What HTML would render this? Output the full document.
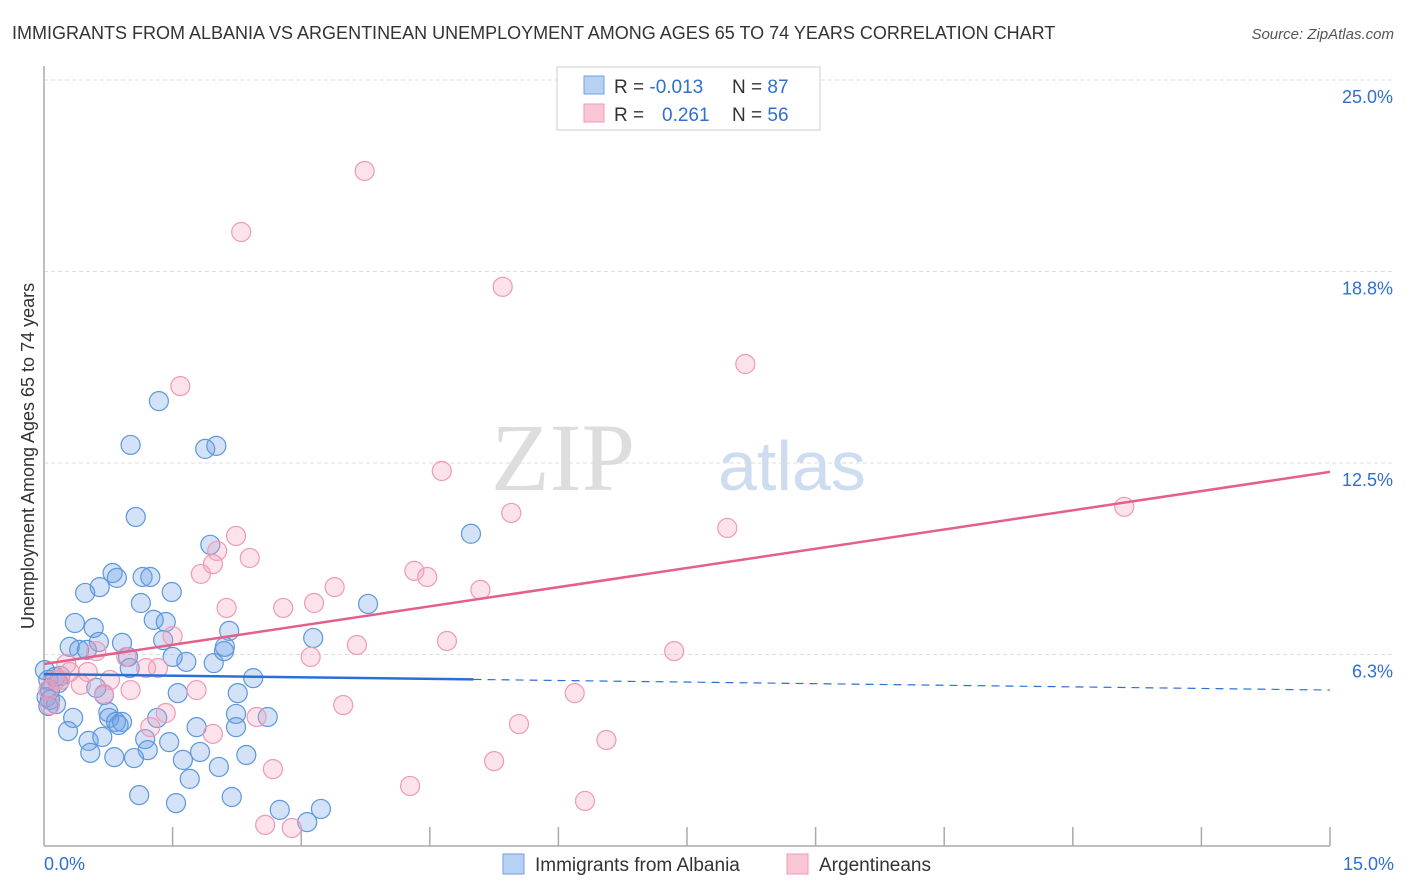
<!DOCTYPE html>
<html><head><meta charset="utf-8">
<style>
body{margin:0;background:#fff;font-family:"Liberation Sans",sans-serif;}
#wrap{position:relative;width:1406px;height:892px;overflow:hidden;}
</style></head>
<body>
<div id="wrap">
<svg id="chart" width="1406" height="892" xmlns="http://www.w3.org/2000/svg">
  <text x="12" y="39" font-size="18" fill="#333">IMMIGRANTS FROM ALBANIA VS ARGENTINEAN UNEMPLOYMENT AMONG AGES 65 TO 74 YEARS CORRELATION CHART</text>
  <text x="1394" y="39" font-size="15" fill="#555" font-style="italic" text-anchor="end">Source: ZipAtlas.com</text>
  <text x="635" y="490" font-size="96" fill="#ddd" font-family="Liberation Serif,serif" text-anchor="end">ZIP</text>
  <text x="718" y="490" font-size="70" fill="#cddcf0">atlas</text>
  <g id="grid"></g>
  <g id="axes"></g>
  <g id="pts"></g>
  <g id="trend"></g>
  <text transform="translate(34,456) rotate(-90)" font-size="18" fill="#333" text-anchor="middle">Unemployment Among Ages 65 to 74 years</text>
  <g>
    <rect x="557" y="67" width="263" height="63" fill="#fff" stroke="#ccc"/>
    <rect x="584" y="76" width="20" height="18" fill="#b7d1f3" stroke="#6fa2e0"/>
    <rect x="584" y="104" width="20" height="18" fill="#f9c6d6" stroke="#ee9ab5"/>
    <text x="614" y="93" font-size="19" fill="#333">R = <tspan fill="#2f6fd0">-0.013</tspan><tspan x="732">N = </tspan><tspan fill="#2f6fd0">87</tspan></text>
    <text x="614" y="121" font-size="19" fill="#333">R = <tspan x="662" fill="#2f6fd0">0.261</tspan><tspan x="732">N = </tspan><tspan fill="#2f6fd0">56</tspan></text>
  </g>
  <g>
    <rect x="503" y="854" width="21" height="20" fill="#b7d1f3" stroke="#6fa2e0"/>
    <text x="535" y="871" font-size="19" fill="#333">Immigrants from Albania</text>
    <rect x="787" y="854" width="21" height="20" fill="#f9c6d6" stroke="#ee9ab5"/>
    <text x="819" y="871" font-size="19" fill="#333">Argentineans</text>
  </g>
</svg>
</div>
<script>
const yTicks=[25.0,18.75,12.5,6.25];
const yTickLabels=["25.0%","18.8%","12.5%","6.3%"];
const xTickVals=[1.5,3,4.5,6,7.5,9,10.5,12,13.5,15];
const xEndLabels=["0.0%","15.0%"];
const albaniaX=[1.34,1.01,1.07,1.88,2.01,1.94,4.98,3.78,3.14,0.80,1.15,1.24,0.85,0.65,0.48,1.49,1.13,1.28,1.42,0.36,0.58,2.16,0.64,0.91,0.30,0.41,0.50,1.39,1.66,1.50,1.98,2.10,2.11,0.98,1.00,2.44,2.26,1.56,0.61,0.70,0.13,0.17,0.07,0.03,0.14,0.05,0.34,0.28,0.75,0.76,0.84,0.91,0.87,1.32,2.24,2.24,2.61,1.78,0.52,0.68,0.54,1.18,1.21,1.46,0.82,1.05,1.82,1.62,2.04,2.36,1.70,1.11,1.54,2.19,2.75,3.23,3.07,0.01,0.05,0.19,0.07];
const albaniaY=[14.52,13.09,10.74,12.96,13.06,9.83,10.19,7.90,6.79,8.91,8.78,8.78,8.75,8.45,8.26,8.29,7.93,7.38,7.31,7.28,7.12,7.02,6.66,6.63,6.50,6.40,6.40,6.72,6.01,6.17,5.97,6.36,6.50,6.17,5.81,5.48,4.99,4.99,5.16,4.93,5.52,5.32,5.09,4.86,4.63,4.57,4.18,3.75,4.37,4.18,4.05,4.05,3.95,4.18,4.31,3.88,4.21,3.88,3.43,3.56,3.04,3.49,3.13,3.39,2.90,2.87,3.07,2.81,2.58,2.97,2.19,1.66,1.40,1.60,1.18,1.21,0.78,5.74,5.42,5.55,4.77];
const argX=[3.74,2.30,5.35,8.18,1.59,4.64,12.60,5.45,7.97,2.24,2.02,2.40,1.97,1.83,4.32,4.47,3.39,5.09,3.15,2.79,2.13,1.50,3.65,4.70,7.35,3.11,0.61,0.96,0.26,1.19,0.51,1.33,0.14,0.43,1.01,1.78,0.70,6.19,3.49,2.48,1.42,1.24,5.54,1.97,6.56,5.25,2.67,4.27,6.31,2.58,2.89,0.07,0.05,0.19,0.30,0.77];
const argY=[22.03,20.04,18.25,15.73,15.01,12.24,11.07,10.87,10.38,10.12,9.63,9.40,9.20,8.88,8.98,8.78,8.45,8.36,7.93,7.77,7.77,6.85,6.56,6.69,6.36,6.17,6.36,6.17,5.94,5.81,5.68,5.81,5.42,5.26,5.09,5.09,4.96,4.99,4.60,4.21,4.34,3.88,3.98,3.66,3.46,2.77,2.51,1.96,1.47,0.69,0.59,4.60,5.09,5.42,5.68,5.42];
const albaniaTrend=[5.61,5.09];
const albaniaSolidEnd=5.01;
const argTrend=[5.94,12.21];

const X0=44,X1=1330,Y0=846,PXY=30.64;
const xs=v=>X0+v*(X1-X0)/15;
const ys=v=>Y0-v*PXY;
const NS="http://www.w3.org/2000/svg";
function mk(tag,attrs,parent){const e=document.createElementNS(NS,tag);for(const k in attrs)e.setAttribute(k,attrs[k]);parent.appendChild(e);return e;}
const grid=document.getElementById('grid'),axes=document.getElementById('axes'),pts=document.getElementById('pts'),trend=document.getElementById('trend');
yTicks.forEach((t,i)=>{
  const l=mk('line',{x1:X0,x2:X1+64,y1:ys(t),y2:ys(t),stroke:'#ddd','stroke-dasharray':'4,3'},grid);
  
  
  const tx=mk('text',{x:1393,y:ys(t)+23,'font-size':18,fill:'#2f6fd0','text-anchor':'end'},axes);
  tx.textContent=yTickLabels[i];
  
  
});
const ya=mk('line',{x1:X0,x2:X0,y1:66,y2:Y0,stroke:'#aaa','stroke-width':1.5},axes);


const xa=mk('line',{x1:X0,x2:X1,y1:Y0,y2:Y0,stroke:'#aaa','stroke-width':1.5},axes);


xTickVals.forEach(t=>{
  const l=mk('line',{x1:xs(t),x2:xs(t),y1:Y0-19,y2:Y0,stroke:'#aaa','stroke-width':1.5},axes);
  
  
});
const xl0=mk('text',{x:X0,y:870,'font-size':18,fill:'#2f6fd0'},axes);xl0.textContent=xEndLabels[0];


const xl1=mk('text',{x:1394,y:870,'font-size':18,fill:'#2f6fd0','text-anchor':'end'},axes);xl1.textContent=xEndLabels[1];


albaniaX.forEach((v,i)=>{
  const c=mk('circle',{cx:xs(v),cy:ys(albaniaY[i]),r:9.5,fill:'rgba(110,160,230,0.3)',stroke:'#5c97dd','stroke-width':1.2},pts);
  
  
});
argX.forEach((v,i)=>{
  const c=mk('circle',{cx:xs(v),cy:ys(argY[i]),r:9.5,fill:'rgba(245,160,190,0.3)',stroke:'#ee9ab5','stroke-width':1.2},pts);
  
  
});
const slope=(albaniaTrend[1]-albaniaTrend[0])/15;
const bs=mk('line',{x1:xs(0),y1:ys(albaniaTrend[0]),x2:xs(albaniaSolidEnd),y2:ys(albaniaTrend[0]+slope*albaniaSolidEnd),stroke:'#2b6fd6','stroke-width':2.5},trend);


const bd=mk('line',{x1:xs(albaniaSolidEnd),y1:ys(albaniaTrend[0]+slope*albaniaSolidEnd),x2:xs(15),y2:ys(albaniaTrend[1]),stroke:'#2b6fd6','stroke-width':1.2,'stroke-dasharray':'8,6'},trend);


const pl=mk('line',{x1:xs(0),y1:ys(argTrend[0]),x2:xs(15),y2:ys(argTrend[1]),stroke:'#e4608a','stroke-width':2.5},trend);


</script>
</body></html>
